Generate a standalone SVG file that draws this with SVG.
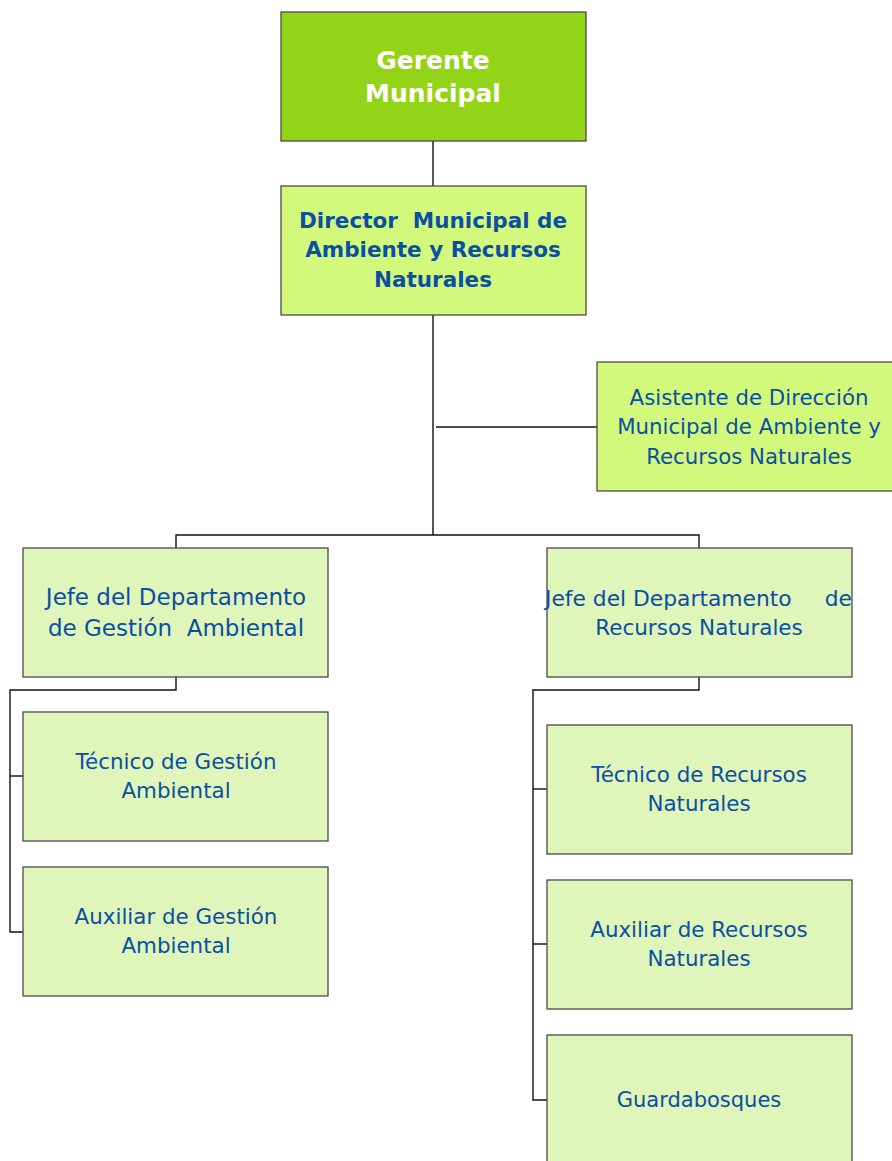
<svg xmlns="http://www.w3.org/2000/svg" width="892" height="1161" viewBox="0 0 892 1161">
<style>
.box{stroke:#4a4a4a;stroke-width:1.3}
.g1{fill:#93d419}
.g2{fill:#d3f97c}
.g3{fill:#e0f5b9}
.t{font-family:"DejaVu Sans","Liberation Sans",sans-serif;fill:#0a4fa3;text-anchor:middle}
.b{font-weight:bold}
.w{fill:#ffffff}
.ln{stroke:#111;stroke-width:1.4;fill:none}
</style>
<rect width="892" height="1161" fill="#ffffff"/>
<g id="connectors">
<path class="ln" d="M433,141 V186"/>
<path class="ln" d="M433,315 V535"/>
<path class="ln" d="M436,427 H597"/>
<path class="ln" d="M176,548 V535 H699 V548"/>
<path class="ln" d="M176,677 V690 H10 V932 H23"/>
<path class="ln" d="M10,776 H23"/>
<path class="ln" d="M699,677 V690 H533 V1100 H547"/>
<path class="ln" d="M533,789 H547"/>
<path class="ln" d="M533,944 H547"/>
</g>
<g id="gerente">
<rect class="box g1" x="281" y="12" width="305" height="129"/>
<text class="t b w" font-size="25" x="433" y="69">Gerente</text>
<text class="t b w" font-size="25" x="433" y="102">Municipal</text>
</g>
<g id="director">
<rect class="box g2" x="281" y="186" width="305" height="129"/>
<text class="t b" font-size="21.5" xml:space="preserve" x="433" y="228">Director  Municipal de</text>
<text class="t b" font-size="21.5" x="433" y="257">Ambiente y Recursos</text>
<text class="t b" font-size="21.5" x="433" y="287">Naturales</text>
</g>
<g id="asistente">
<rect class="box g2" x="597" y="362" width="300" height="129"/>
<text class="t" font-size="21.3" x="749" y="405">Asistente de Dirección</text>
<text class="t" font-size="21.3" x="749" y="434">Municipal de Ambiente y</text>
<text class="t" font-size="21.3" x="749" y="464">Recursos Naturales</text>
</g>
<g id="jefe-gestion">
<rect class="box g3" x="23" y="548" width="305" height="129"/>
<text class="t" font-size="23" x="176" y="605">Jefe del Departamento</text>
<text class="t" font-size="23" xml:space="preserve" x="176" y="636">de Gestión  Ambiental</text>
</g>
<g id="jefe-recursos">
<rect class="box g3" x="547" y="548" width="305" height="129"/>
<text class="t" font-size="21.8" style="text-anchor:start" x="545" y="606">Jefe del Departamento</text>
<text class="t" font-size="21.8" style="text-anchor:end" x="852" y="606">de</text>
<text class="t" font-size="21.5" x="699" y="635">Recursos Naturales</text>
</g>
<g id="tecnico-gestion">
<rect class="box g3" x="23" y="712" width="305" height="129"/>
<text class="t" font-size="21.4" x="176" y="769">Técnico de Gestión</text>
<text class="t" font-size="21.4" x="176" y="798">Ambiental</text>
</g>
<g id="auxiliar-gestion">
<rect class="box g3" x="23" y="867" width="305" height="129"/>
<text class="t" font-size="21.4" x="176" y="924">Auxiliar de Gestión</text>
<text class="t" font-size="21.4" x="176" y="953">Ambiental</text>
</g>
<g id="tecnico-recursos">
<rect class="box g3" x="547" y="725" width="305" height="129"/>
<text class="t" font-size="21.4" x="699" y="782">Técnico de Recursos</text>
<text class="t" font-size="21.4" x="699" y="811">Naturales</text>
</g>
<g id="auxiliar-recursos">
<rect class="box g3" x="547" y="880" width="305" height="129"/>
<text class="t" font-size="21.4" x="699" y="937">Auxiliar de Recursos</text>
<text class="t" font-size="21.4" x="699" y="966">Naturales</text>
</g>
<g id="guardabosques">
<rect class="box g3" x="547" y="1035" width="305" height="140"/>
<text class="t" font-size="21" x="699" y="1107">Guardabosques</text>
</g>
</svg>
